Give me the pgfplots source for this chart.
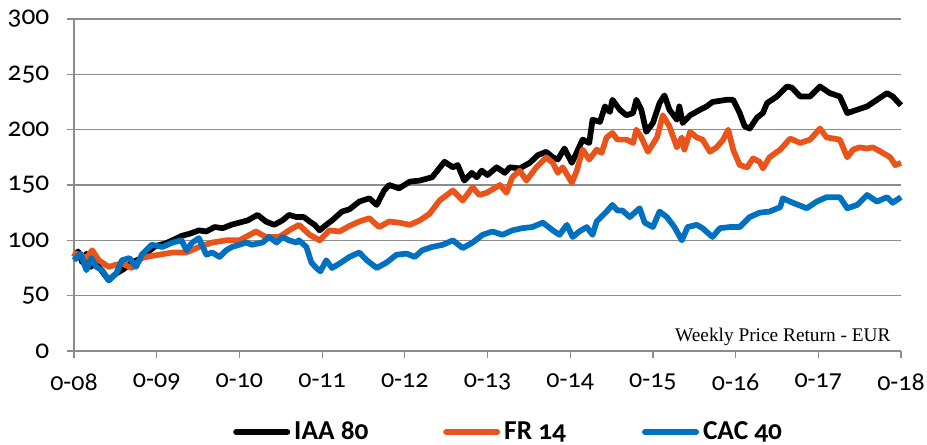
\documentclass[border=0pt]{standalone}
\usepackage{fontspec}
\setmainfont{Carlito}[Numbers=OldStyle]
\newfontfamily\notefont{Liberation Serif}
\usepackage{pgfplots}
\pgfplotsset{compat=1.18}
\definecolor{gridgray}{RGB}{140,140,140}
\definecolor{iaacol}{RGB}{0,0,0}
\definecolor{frcol}{RGB}{232,84,26}
\definecolor{caccol}{RGB}{0,112,192}
\begin{document}
\begin{tikzpicture}[x=1pt,y=1pt]
\path[use as bounding box] (-55.5,-70.5) rectangle (639.75,263.25);
\begin{axis}[
  at={(0,0)}, anchor=south west,
  scale only axis, width=620.25pt, height=249pt,
  xmin=0, xmax=10, ymin=0, ymax=300,
  axis lines*=left,
  xtick={0,1,2,3,4,5,6,7,8,9,10},
  xticklabels={0-08,0-09,0-10,0-11,0-12,0-13,0-14,0-15,0-16,0-17,0-18},
  ytick={0,50,100,150,200,250,300},
  ymajorgrids,
  major grid style={gridgray, line width=0.9pt},
  axis line style={gridgray, line width=0.9pt},
  tick style={gridgray, line width=0.9pt},
  tick align=outside, major tick length=5.5pt,
  /pgf/number format/assume math mode=true,
  tick label style={black},
  xticklabel style={font=\fontsize{19.5}{22}\selectfont, yshift=-8pt},
  yticklabel style={font=\fontsize{20.5}{22}\selectfont, xshift=-9.5pt},
  clip=false,
  legend columns=3,
  legend style={at={(axis description cs:0.526,-0.244)}, anchor=center, draw=none, fill=none,
    font=\bfseries\fontsize{20.5}{22}\selectfont, inner sep=0pt,
    /tikz/every odd column/.style={column sep=1pt},
    /tikz/column 2/.style={column sep=54pt},
    /tikz/column 4/.style={column sep=55pt}},
  legend image code/.code={\draw[#1, line width=4.5pt, line cap=round] (2.25pt,0pt) -- (40.5pt,0pt);},
]
\addplot[iaacol, line width=4.3pt, line join=round] coordinates {
(0,85) (0.05,90) (0.1,80) (0.15,88) (0.2,76) (0.27,80) (0.34,72) (0.42,64) (0.51,70) (0.6,74) (0.7,80) (0.79,83) (0.9,90) (0.99,95) (1.1,97) (1.19,100) (1.3,104) (1.4,106) (1.51,109) (1.6,108) (1.7,112) (1.8,111) (1.9,114) (2.0,116) (2.1,118) (2.22,123) (2.32,117) (2.42,114) (2.52,118) (2.6,123) (2.69,121) (2.78,121) (2.85,117) (2.91,114) (2.97,109) (3.05,114) (3.12,118) (3.24,126) (3.33,128) (3.45,135) (3.57,138) (3.66,132) (3.75,145) (3.81,150) (3.93,147) (4.06,153) (4.18,154) (4.33,157) (4.48,171) (4.58,166) (4.64,168) (4.72,154) (4.81,161) (4.87,157) (4.93,163) (5.0,159) (5.11,166) (5.21,161) (5.27,166) (5.39,165) (5.51,170) (5.61,177) (5.71,180) (5.79,175) (5.85,173) (5.93,183) (6.02,170) (6.15,191) (6.23,188) (6.27,209) (6.36,207) (6.42,221) (6.48,216) (6.51,227) (6.6,218) (6.68,213) (6.76,215) (6.8,227) (6.86,218) (6.92,198) (7.0,206) (7.08,224) (7.14,231) (7.2,218) (7.29,209) (7.32,221) (7.36,206) (7.45,213) (7.57,218) (7.65,221) (7.72,225) (7.89,227) (7.97,227) (8.05,215) (8.11,203) (8.17,201) (8.26,211) (8.33,215) (8.38,224) (8.5,230) (8.62,239) (8.68,238) (8.78,230) (8.9,230) (9.02,239) (9.14,233) (9.26,230) (9.35,215) (9.47,218) (9.59,221) (9.71,227) (9.83,233) (9.9,230) (10,222)
};
\addlegendentry{IAA 80}
\addplot[frcol, line width=4.3pt, line join=round] coordinates {
(0,85) (0.02,88) (0.1,86) (0.15,84) (0.22,91) (0.3,82) (0.42,76) (0.51,78) (0.58,79) (0.7,75) (0.82,84) (0.94,86) (1.03,87) (1.19,89) (1.36,89) (1.51,94) (1.67,98) (1.84,100) (2.0,100) (2.1,104) (2.2,108) (2.32,103) (2.48,103) (2.6,109) (2.72,114) (2.85,105) (2.97,100) (3.09,109) (3.21,108) (3.33,113) (3.45,117) (3.57,120) (3.69,112) (3.81,117) (3.93,116) (4.06,114) (4.18,118) (4.3,124) (4.42,136) (4.58,145) (4.7,136) (4.82,148) (4.9,141) (4.99,143) (5.15,150) (5.23,143) (5.3,157) (5.39,163) (5.47,154) (5.59,166) (5.71,175) (5.79,170) (5.85,161) (5.91,166) (6.02,152) (6.08,163) (6.15,182) (6.23,173) (6.32,182) (6.38,179) (6.44,193) (6.51,197) (6.57,191) (6.68,191) (6.76,188) (6.8,200) (6.86,193) (6.94,180) (7.05,193) (7.12,213) (7.2,203) (7.29,184) (7.35,193) (7.38,182) (7.45,198) (7.53,193) (7.6,191) (7.69,180) (7.77,184) (7.85,191) (7.91,200) (7.97,182) (8.05,168) (8.14,166) (8.21,174) (8.29,171) (8.33,165) (8.41,175) (8.54,182) (8.66,192) (8.78,188) (8.9,191) (9.02,201) (9.1,193) (9.18,192) (9.26,191) (9.35,175) (9.42,182) (9.5,184) (9.59,183) (9.66,184) (9.78,179) (9.87,175) (9.93,168) (10,170)
};
\addlegendentry{FR 14}
\addplot[caccol, line width=4.3pt, line join=round] coordinates {
(0,82) (0.08,88) (0.15,73) (0.21,84) (0.27,76) (0.34,73) (0.42,64) (0.51,70) (0.58,82) (0.67,84) (0.75,76) (0.82,87) (0.94,96) (1.07,94) (1.19,98) (1.3,100) (1.36,91) (1.43,98) (1.51,102) (1.6,87) (1.67,89) (1.76,85) (1.84,91) (1.91,94) (2.0,96) (2.08,98) (2.15,96) (2.28,98) (2.36,103) (2.45,98) (2.52,103) (2.6,100) (2.69,98) (2.72,100) (2.81,94) (2.87,80) (2.93,75) (2.98,72) (3.05,82) (3.12,75) (3.21,79) (3.33,85) (3.45,89) (3.54,82) (3.66,75) (3.78,80) (3.9,87) (4.02,88) (4.12,85) (4.21,91) (4.33,94) (4.46,96) (4.58,100) (4.7,93) (4.82,98) (4.94,105) (5.06,108) (5.18,105) (5.3,109) (5.42,111) (5.54,112) (5.67,116) (5.79,109) (5.87,105) (5.96,114) (6.03,103) (6.11,108) (6.2,112) (6.27,105) (6.32,117) (6.44,126) (6.51,132) (6.57,127) (6.63,127) (6.72,121) (6.84,129) (6.9,116) (7.0,112) (7.08,126) (7.17,121) (7.26,112) (7.35,100) (7.42,112) (7.53,114) (7.6,111) (7.72,103) (7.81,111) (7.93,112) (8.05,112) (8.17,121) (8.29,125) (8.41,126) (8.54,130) (8.57,138) (8.69,134) (8.86,129) (8.98,135) (9.1,139) (9.26,139) (9.35,129) (9.47,132) (9.59,141) (9.71,135) (9.83,139) (9.9,134) (10,139)
};
\addlegendentry{CAC 40}
\node[anchor=base east, font=\notefont\fontsize{14.5}{16}\selectfont] at (axis description cs:0.993,0.03) {Weekly Price Return - EUR};
\end{axis}
\end{tikzpicture}
\end{document}
